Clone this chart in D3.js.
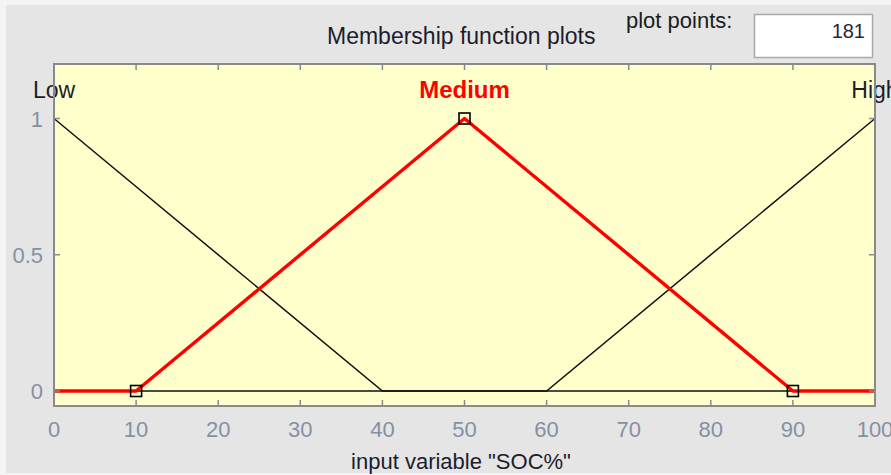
<!DOCTYPE html>
<html>
<head>
<meta charset="utf-8">
<script src="https://cdn.jsdelivr.net/npm/d3@7/dist/d3.min.js"></script>
<style>
  html, body { margin: 0; padding: 0; background: #f4f4f4; }
  svg { display: block; }
  text { font-family: "Liberation Sans", Arial, sans-serif; }
</style>
</head>
<body>
<svg id="chart" width="891" height="475"></svg>
<script>
// Membership functions of the input variable "SOC%" (triangular, params [a b c])
const mfNames = ["Low", "Medium", "High"];
const mfParams = [[-40, 0, 40], [10, 50, 90], [60, 100, 140]];
const activeMf = "Medium";
const xTicks = [0, 10, 20, 30, 40, 50, 60, 70, 80, 90, 100];
const yTicks = [0, 0.5, 1];
const xRange = [0, 100];
const plotPoints = 181;
const titleText = "Membership function plots";
const xLabelText = 'input variable "SOC%"';

const svg = d3.select("#chart");
const W = 891, H = 475;

// panel background
svg.append("rect").attr("x", 6).attr("y", 5).attr("width", W - 6).attr("height", 468)
  .attr("fill", "#e5e5e5");

const box = { left: 54, right: 875, top: 64, bottom: 406 };
const x = d3.scaleLinear().domain(xRange).range([box.left, box.right]);
const y = d3.scaleLinear().domain([0, 1]).range([391, 118.5]);

// axes background
svg.append("rect").attr("x", box.left).attr("y", box.top)
  .attr("width", box.right - box.left).attr("height", box.bottom - box.top)
  .attr("fill", "#ffffcc");

// header
svg.append("text").attr("x", 327).attr("y", 44).attr("font-size", 23)
  .attr("fill", "#1c1c2c").text(titleText);
svg.append("text").attr("x", 626).attr("y", 28).attr("font-size", 22)
  .attr("fill", "#1c1c1c").text("plot points:");
svg.append("rect").attr("x", 754.5).attr("y", 14.5).attr("width", 118).attr("height", 43)
  .attr("fill", "#ffffff").attr("stroke", "#a9a9a9").attr("stroke-width", 1.5);
svg.append("text").attr("x", 865).attr("y", 38).attr("font-size", 20)
  .attr("text-anchor", "end").attr("fill", "#2a1f4a").text(plotPoints);

// vertices of each triangular function, clipped to the variable range
function mfVertices(p) {
  const [a, b, c] = p;
  const f = v => Math.max(0, Math.min((v - a) / (b - a), (c - v) / (c - b)));
  const xs = [xRange[0], a, b, c, xRange[1]].filter(v => v >= xRange[0] && v <= xRange[1]);
  xs.sort((m, n) => m - n);
  return xs.map(v => [v, f(v)]);
}

const line = d3.line().x(d => x(d[0])).y(d => y(d[1]));
const plot = svg.append("g");

// inactive functions in black, active one in thick red on top
mfNames.forEach((name, i) => {
  if (name === activeMf) return;
  plot.append("path").datum(mfVertices(mfParams[i])).attr("d", line)
    .attr("fill", "none").attr("stroke", "#111").attr("stroke-width", 1.5);
});
mfNames.forEach((name, i) => {
  if (name !== activeMf) return;
  plot.append("path").datum(mfVertices(mfParams[i])).attr("d", line)
    .attr("fill", "none").attr("stroke", "#ff0000").attr("stroke-width", 3.4)
    .attr("stroke-linejoin", "round");
  // parameter handles
  mfParams[i].forEach(v => {
    if (v < xRange[0] || v > xRange[1]) return;
    const yv = v === mfParams[i][1] ? 1 : 0;
    plot.append("rect").attr("x", x(v) - 5.5).attr("y", y(yv) - 5.5)
      .attr("width", 11).attr("height", 11)
      .attr("fill", "none").attr("stroke", "#000").attr("stroke-width", 1.6);
  });
});

// function names
mfNames.forEach((name, i) => {
  const isActive = name === activeMf;
  svg.append("text").attr("x", x(Math.max(xRange[0], Math.min(xRange[1], mfParams[i][1]))))
    .attr("y", 98).attr("text-anchor", "middle").attr("font-size", isActive ? 24 : 23)
    .attr("font-weight", isActive ? "bold" : "normal")
    .attr("fill", isActive ? "#ff0000" : "#1c1c2c").text(name);
});

// axes box and ticks (ticks inward on all four sides)
const axisColor = "#8a8a8a";
svg.append("rect").attr("x", box.left).attr("y", box.top)
  .attr("width", box.right - box.left).attr("height", box.bottom - box.top)
  .attr("fill", "none").attr("stroke", axisColor).attr("stroke-width", 2);

const tickLen = 6;
const gx = svg.append("g");
xTicks.forEach(v => {
  gx.append("line").attr("x1", x(v)).attr("x2", x(v)).attr("y1", box.bottom).attr("y2", box.bottom - tickLen)
    .attr("stroke", axisColor).attr("stroke-width", 1.5);
  gx.append("line").attr("x1", x(v)).attr("x2", x(v)).attr("y1", box.top).attr("y2", box.top + tickLen)
    .attr("stroke", axisColor).attr("stroke-width", 1.5);
  gx.append("text").attr("x", x(v)).attr("y", 437).attr("text-anchor", "middle")
    .attr("font-size", 22).attr("fill", "#8591a3").text(v);
});
yTicks.forEach(v => {
  svg.append("line").attr("x1", box.left).attr("x2", box.left + tickLen).attr("y1", y(v)).attr("y2", y(v))
    .attr("stroke", axisColor).attr("stroke-width", 1.5);
  svg.append("line").attr("x1", box.right).attr("x2", box.right - tickLen).attr("y1", y(v)).attr("y2", y(v))
    .attr("stroke", axisColor).attr("stroke-width", 1.5);
  svg.append("text").attr("x", 43).attr("y", y(v) + 8).attr("text-anchor", "end")
    .attr("font-size", 22).attr("fill", "#8591a3").text(v);
});

svg.append("text").attr("x", 461).attr("y", 469).attr("text-anchor", "middle")
  .attr("font-size", 22).attr("fill", "#1c1c2c").text(xLabelText);
</script>
</body>
</html>
